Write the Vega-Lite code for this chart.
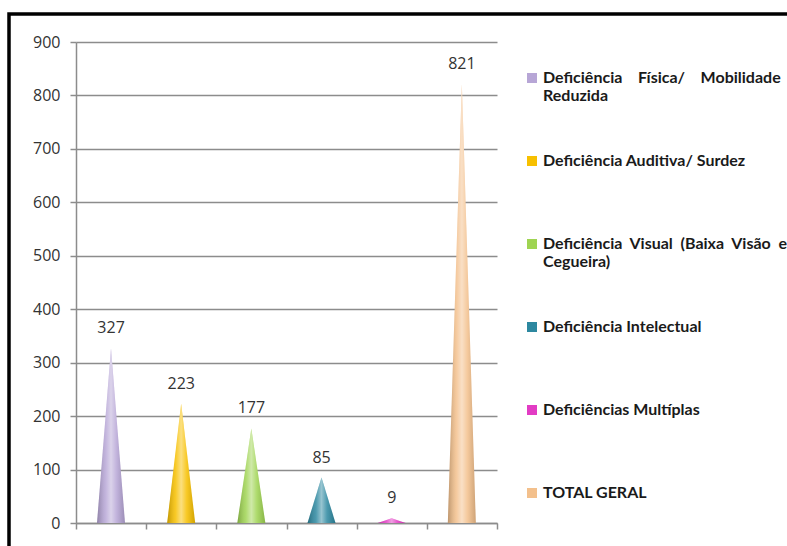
{
  "$schema": "https://vega.github.io/schema/vega-lite/v6.json",
  "width": 778,
  "height": 532,
  "autosize": {"type": "none"},
  "padding": {"left": 9, "top": 14, "right": 0, "bottom": 0},
  "background": "white",
  "config": {
    "view": {"stroke": "black", "strokeWidth": 3.5, "strokeDash": [778, 1310, 532], "fill": "white"},
    "font": "Open Sans",
    "axis": {"domainColor": "#8c8c8c", "tickColor": "#8c8c8c", "gridColor": "#8c8c8c", "domainWidth": 1.5, "tickWidth": 1.5, "gridWidth": 1.5}
  },
  "data": {
    "values": [
      {"categoria": "Deficiência Física/ Mobilidade Reduzida", "valor": 327},
      {"categoria": "Deficiência Auditiva/ Surdez", "valor": 223},
      {"categoria": "Deficiência Visual (Baixa Visão e Cegueira)", "valor": 177},
      {"categoria": "Deficiência Intelectual", "valor": 85},
      {"categoria": "Deficiências Multíplas", "valor": 9},
      {"categoria": "TOTAL GERAL", "valor": 821}
    ]
  },
  "layer": [
    {
      "transform": [
        {"calculate": "0", "as": "base_esquerda"},
        {"calculate": "0", "as": "base_direita"},
        {"fold": ["base_esquerda", "valor", "base_direita"], "as": ["ponta", "altura"]}
      ],
      "mark": {"type": "area", "interpolate": "linear"},
      "encoding": {
        "x": {
          "field": "categoria", "type": "nominal", "sort": null,
          "scale": {"type": "band", "range": [67, 488], "paddingInner": 0, "paddingOuter": 0},
          "axis": {"title": null, "labels": false, "tickBand": "extent", "tickSize": 6, "offset": -23, "grid": false}
        },
        "xOffset": {
          "field": "ponta", "type": "nominal",
          "scale": {"type": "point", "domain": ["base_esquerda", "valor", "base_direita"], "range": [21, 49], "padding": 0}
        },
        "y": {
          "field": "altura", "type": "quantitative", "stack": null,
          "scale": {"domain": [0, 900], "range": [509, 28], "nice": false},
          "axis": {"title": null, "values": [0, 100, 200, 300, 400, 500, 600, 700, 800, 900], "offset": -67, "tickSize": 6, "labelPadding": 10, "labelFontSize": 16, "labelColor": "#333333", "grid": true}
        },
        "color": {
          "field": "categoria", "type": "nominal", "sort": null,
          "scale": {
            "domain": ["Deficiência Física/ Mobilidade Reduzida", "Deficiência Auditiva/ Surdez", "Deficiência Visual (Baixa Visão e Cegueira)", "Deficiência Intelectual", "Deficiências Multíplas", "TOTAL GERAL"],
            "range": ["#b7a6d6", "#f7c000", "#9fd452", "#2d88a0", "#e23cc4", "#f3c08c"]
          },
          "legend": {
            "orient": "none", "legendX": 515, "legendY": 56,
            "title": null, "symbolType": "square", "symbolSize": 100, "symbolStrokeWidth": 0,
            "labelFont": "Lato", "labelFontWeight": "bold", "labelFontSize": 16, "labelColor": "#1a1a1a",
            "labelLimit": 300, "labelOffset": 3, "labelBaseline": "middle", "rowPadding": 49, "padding": 0,
            "labelExpr": "datum.label == 'Deficiência Física/ Mobilidade Reduzida' ? ['Deficiência\u00a0\u00a0\u00a0\u00a0Física/\u00a0\u00a0\u00a0\u00a0Mobilidade', 'Reduzida'] : datum.label == 'Deficiência Visual (Baixa Visão e Cegueira)' ? ['Deficiência\u00a0\u00a0Visual\u00a0\u00a0(Baixa\u00a0\u00a0Visão\u00a0\u00a0e', 'Cegueira)'] : [datum.label, '']"
          }
        }
      }
    },
    {
      "transform": [
        {"calculate": "0", "as": "base_esquerda"},
        {"calculate": "0", "as": "base_direita"},
        {"fold": ["base_esquerda", "valor", "base_direita"], "as": ["ponta", "altura"]}
      ],
      "mark": {
        "type": "area", "interpolate": "linear",
        "color": {"gradient": "linear", "x1": 0, "y1": 0, "x2": 1, "y2": 0, "stops": [
          {"offset": 0, "color": "rgba(0,0,0,0.22)"},
          {"offset": 0.3, "color": "rgba(255,255,255,0.15)"},
          {"offset": 0.5, "color": "rgba(255,255,255,0.5)"},
          {"offset": 0.7, "color": "rgba(255,255,255,0.15)"},
          {"offset": 1, "color": "rgba(0,0,0,0.15)"}
        ]}
      },
      "encoding": {
        "x": {"field": "categoria", "type": "nominal", "sort": null},
        "xOffset": {"field": "ponta", "type": "nominal"},
        "y": {"field": "altura", "type": "quantitative", "stack": null},
        "detail": {"field": "categoria", "type": "nominal"}
      }
    },
    {
      "mark": {"type": "text", "dy": -20, "fontSize": 16, "color": "#333333", "font": "Open Sans"},
      "encoding": {
        "x": {"field": "categoria", "type": "nominal", "sort": null, "bandPosition": 0.5},
        "y": {"field": "valor", "type": "quantitative"},
        "text": {"field": "valor", "type": "quantitative"}
      }
    }
  ]
}
